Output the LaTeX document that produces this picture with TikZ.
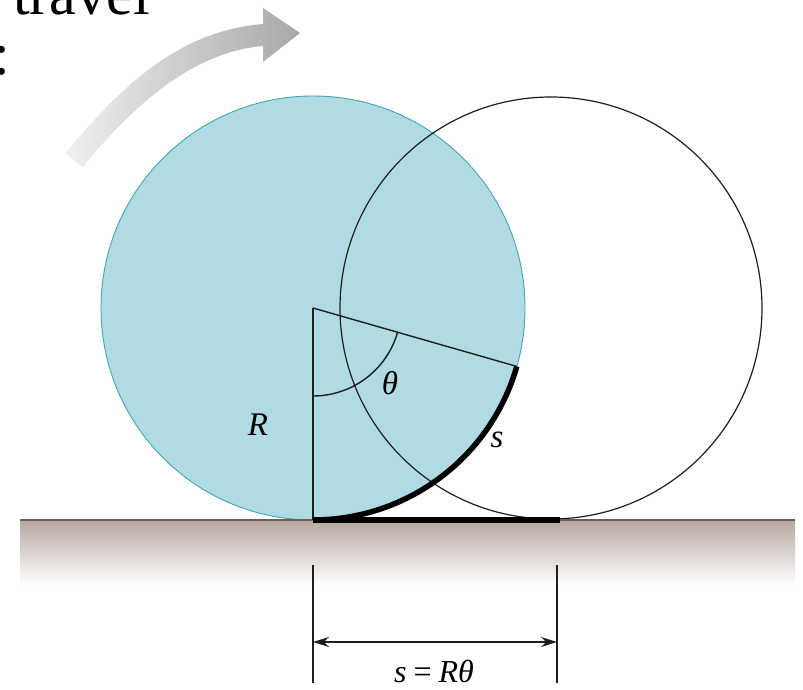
\documentclass[tikz,border=0pt]{standalone}
\usepackage{fontspec}
\setmainfont{Liberation Serif}
\newfontfamily\timesfont{Liberation Serif}
\usetikzlibrary{arrows.meta}
\definecolor{wheelblue}{RGB}{176,219,227}
\definecolor{wheeledge}{RGB}{70,165,180}
\definecolor{groundtop}{RGB}{183,167,158}
\definecolor{groundline}{RGB}{105,95,90}
\definecolor{inkline}{RGB}{30,30,30}
\begin{document}
\begin{tikzpicture}[x=1pt,y=1pt,
  thinline/.style={line width=1.4pt, draw=inkline},
  circline/.style={line width=1.2pt, draw=inkline},
  heavyline/.style={line width=5.5pt, draw=black},
  lbl/.style={font=\timesfont\fontsize{33}{37}\selectfont\itshape, inner sep=0pt},
  bigtext/.style={font=\timesfont\fontsize{60}{70}\selectfont, inner sep=0pt, anchor=base west},
  dimarrow/.style={line width=1.4pt, draw=inkline, {Stealth[length=16pt,width=10pt]}-{Stealth[length=16pt,width=10pt]}}
  ]
\useasboundingbox (0,0) rectangle (803,689);
\clip (0,0) rectangle (803,689);
\fill[white] (0,0) rectangle (803,689);

% cut-off text at the top left
\node[bigtext] (word) at (13,674) {travel};
\node[bigtext] (colon) at (-7,614) {:};

% curved grey arrow
\shade[left color=gray!12, right color=gray!68]
  (82.4,522) .. controls (130.6,579.5) and (189,636.5) .. (263,643)
  -- (263,627) -- (300,656) -- (263,681) -- (263,665)
  .. controls (177,658) and (120,601) .. (65.6,536) -- cycle;

% ground
\shade[top color=groundtop, bottom color=white] (20,104) rectangle (795,169);

% key points
\coordinate (O) at (313,381);
\coordinate (O2) at (551,381);
\coordinate (B) at (313,169);
\coordinate (G) at (560,169);
\path (O) ++(-16:212) coordinate (P);
\path (O) ++(-90:88) coordinate (A0);

% wheels
\filldraw[fill=wheelblue, draw=wheeledge, line width=0.9pt] (O) circle[radius=212];
\draw[circline] (O2) circle[radius=211];

\coordinate (GL) at (20,169);
\coordinate (GR) at (795,169);
\draw[groundline, line width=2pt] (GL) -- (GR);

% radii and angle
\draw[thinline] (O) -- (B);
\draw[thinline] (O) -- (P);
\draw[thinline] (A0) arc[start angle=-90, end angle=-16, radius=88];

% arc length and ground distance
\draw[heavyline] (B) arc[start angle=-90, end angle=-16, radius=212];
\draw[heavyline] (B) -- (G);

% dimension
\coordinate (T1a) at (313,124);
\coordinate (T1b) at (313,6);
\coordinate (T2a) at (557,124);
\coordinate (T2b) at (557,6);
\coordinate (D1) at (313,47);
\coordinate (D2) at (557,47);
\draw[thinline] (T1a) -- (T1b);
\draw[thinline] (T2a) -- (T2b);
\draw[dimarrow] (D1) -- (D2);

% labels
\node[lbl] (Rlab) at (258,264) {R};
\node[lbl] (thlab) at (390,306) {θ};
\node[lbl] (slab) at (497,249) {s};
\node[font=\timesfont\fontsize{32}{36}\selectfont, inner sep=0pt, anchor=base] (eqlab) at (434,7) {\textit{s}\hspace{7pt}=\hspace{7pt}\textit{Rθ}};
\end{tikzpicture}
\end{document}
